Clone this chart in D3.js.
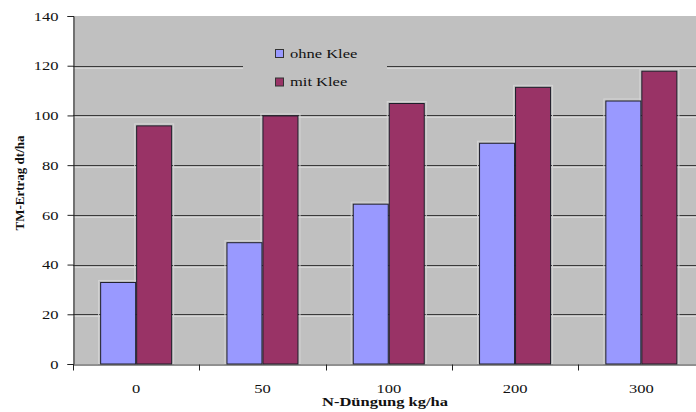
<!DOCTYPE html>
<html><head><meta charset="utf-8">
<script src="https://cdn.jsdelivr.net/npm/d3@7"></script>
<style>
html,body{margin:0;padding:0;background:#fff;overflow:hidden}
svg text{font-family:'Liberation Serif','Times New Roman',serif;fill:#111}
</style></head>
<body><svg id="c" width="696" height="412"></svg>
<script>
const categories = ["0","50","100","200","300"];
const seriesNames = ["ohne Klee","mit Klee"];
const ohneKlee = [33, 49, 64.5, 89, 106];
const mitKlee = [96, 100, 105, 111.5, 118];
const yTicks = [0,20,40,60,80,100,120,140];
const colors = ["#9999ff","#993366"];

(function(){
const FF = "'Liberation Serif','Times New Roman',serif";
const svg = d3.select("#c");
const pLeft = 73, pTop = 16, pBottom = 364, pRight = 704.5;
const sx = 1.27;

const x = d3.scaleBand().domain(categories).range([pLeft, pRight]).paddingInner(0).paddingOuter(0);
const xs = d3.scaleBand().domain(seriesNames).range([0, x.bandwidth()]).paddingInner(0).paddingOuter(0.754);
const y = d3.scaleLinear().domain([0,140]).range([pBottom, pTop]);

svg.append("rect").attr("x", pLeft).attr("y", pTop).attr("width", pRight-pLeft).attr("height", pBottom-pTop).attr("fill", "#c0c0c0");

const g = svg.append("g");
yTicks.filter(t => t>0 && t<140).forEach(t => {
  const yy = Math.round(y(t)) + 0.5;
  g.append("line").attr("x1", pLeft).attr("x2", pRight).attr("y1", yy).attr("y2", yy).attr("stroke", "#3a3a3a").attr("stroke-width", 1);
  g.append("line").attr("x1", pLeft).attr("x2", pRight).attr("y1", yy+2).attr("y2", yy+2).attr("stroke", "#d6d6d6").attr("stroke-width", 1);
});

const data = categories.map((c,i) => ({c, vals:[ohneKlee[i], mitKlee[i]]}));
const grp = svg.append("g").selectAll("g").data(data).join("g").attr("transform", d => `translate(${x(d.c)},0)`);
grp.selectAll("rect.halo").data(d => d.vals.map((v,j)=>({v, s:seriesNames[j], j}))).join("rect")
  .attr("class","halo")
  .attr("x", d => xs(d.s)-1.5).attr("y", d => y(d.v)-1.5)
  .attr("width", xs.bandwidth()+3).attr("height", d => pBottom - y(d.v)+1.5)
  .attr("fill", "none").attr("stroke", "#d4d4d4").attr("stroke-width", 1);
grp.selectAll("rect.bar").data(d => d.vals.map((v,j)=>({v, s:seriesNames[j], j}))).join("rect")
  .attr("class","bar")
  .attr("x", d => xs(d.s)+0.5).attr("y", d => y(d.v)+0.5)
  .attr("width", xs.bandwidth()-1).attr("height", d => pBottom - y(d.v)-0.5)
  .attr("fill", d => colors[d.j]).attr("stroke", "#1e1e2a").attr("stroke-width", 1);

const yAxis = d3.axisLeft(y).tickValues(yTicks).tickSize(6).tickPadding(8).tickFormat(d3.format("d"));
const ya = svg.append("g").attr("transform", `translate(${pLeft+0.5},0)`).call(yAxis).attr("font-family", FF);
ya.select(".domain").attr("stroke", "#222");
ya.selectAll(".tick line").attr("stroke", "#222");
ya.selectAll(".tick text").attr("font-size", 13).attr("fill","#111").attr("font-family", FF)
  .each(function(){
    const t = d3.select(this);
    const xx = +t.attr("x");
    t.attr("x", null).attr("transform", `translate(${xx-1},0) scale(${sx},1)`);
  });

const xAxis = d3.axisBottom(x).tickSize(0).tickPadding(0);
const xa = svg.append("g").attr("transform", `translate(0,${pBottom+0.5})`).call(xAxis).attr("font-family", FF);
xa.select(".domain").attr("stroke", "#222");
xa.selectAll(".tick text").attr("font-size", 13).attr("fill","#111").attr("font-family", FF).attr("y", null).attr("dy", null)
  .attr("transform", `translate(0,28) scale(${sx},1)`);
const bounds = categories.map(c => x(c)).concat([pRight]);
xa.append("g").selectAll("line").data(bounds).join("line")
  .attr("x1", d => Math.round(d)+0.5).attr("x2", d => Math.round(d)+0.5)
  .attr("y1", 0).attr("y2", 6).attr("stroke", "#222");

const lg = svg.append("g");
lg.append("rect").attr("x", 243).attr("y", 38).attr("width", 144).attr("height", 58).attr("fill", "#c0c0c0");
seriesNames.forEach((s,i) => {
  const yy = 49 + i*28.5;
  lg.append("rect").attr("x", 275.5).attr("y", yy+0.5).attr("width", 8).attr("height", 8)
    .attr("fill", colors[i]).attr("stroke", "#333");
  lg.append("text").attr("transform", `translate(290,${yy+8.5}) scale(${sx},1)`).attr("font-family", FF).attr("font-size", 13).text(s);
});

svg.append("text").attr("transform", `translate(385,406) scale(${sx},1)`).attr("text-anchor","middle").attr("font-family", FF)
  .attr("font-size", 13).attr("font-weight","bold").text("N-Düngung kg/ha");
svg.append("text").attr("transform", `translate(24,183) rotate(-90)`).attr("text-anchor","middle").attr("font-family", FF)
  .attr("font-size", 13).attr("font-weight","bold").text("TM-Ertrag dt/ha");
})();
</script></body></html>
